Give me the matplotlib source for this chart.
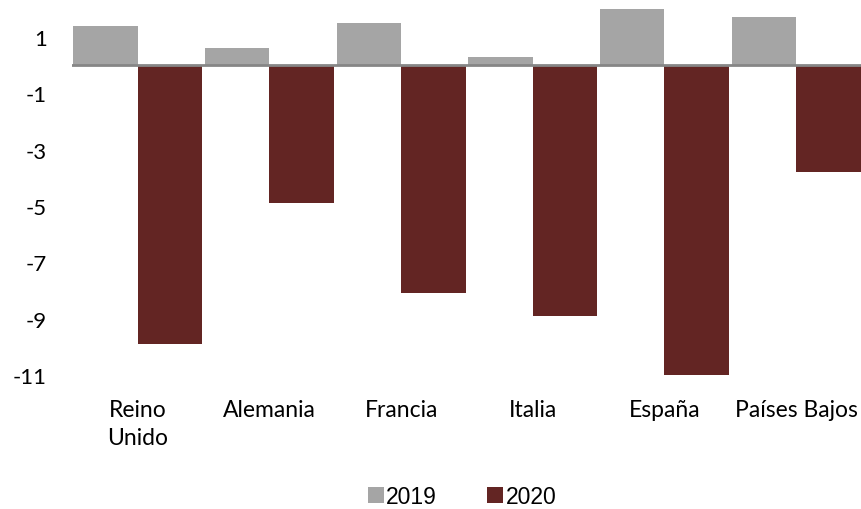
import matplotlib
matplotlib.use("Agg")
import matplotlib.pyplot as plt
import numpy as np

paises = ["Reino\nUnido", "Alemania", "Francia", "Italia", "España", "Países Bajos"]
v2019 = [1.4, 0.6, 1.5, 0.3, 2.0, 1.7]
v2020 = [-9.9, -4.9, -8.1, -8.9, -11.0, -3.8]
yticks = [1, -1, -3, -5, -7, -9, -11]

plt.rcParams['font.family'] = ['Lato', 'DejaVu Sans']

fig = plt.figure(figsize=(8.62, 5.1), dpi=100)
ax = fig.add_axes([72/862, 1-376/510, 1-72/862, (376-10)/510])

x = np.arange(len(paises))
w = 0.49
ax.bar(x - w/2, v2019, w, color="#A5A5A5", label="2019", zorder=2)
ax.bar(x + w/2, v2020, w, color="#632523", label="2020", zorder=2)
ax.axhline(0, color="#868686", lw=2, zorder=3)

ax.set_xlim(-0.5, len(paises) - 0.5)
ax.set_ylim(-11, 2)
ax.set_yticks(yticks)
ax.set_yticklabels([str(t) for t in yticks], fontsize=16)
ax.set_xticks(x)
ax.set_xticklabels(paises, fontsize=16.5, linespacing=1.45, va="top")
ax.tick_params(axis="y", length=0, pad=18)
ax.tick_params(axis="x", length=0, pad=17)
for s in ax.spines.values():
    s.set_visible(False)

fig.legend(loc="lower center", bbox_to_anchor=(0.536, -0.022), ncol=2, frameon=False,
           handlelength=0.7, handleheight=0.7, handletextpad=0.1, borderpad=0.05,
           columnspacing=2.2, prop={'family': ['Liberation Sans Narrow', 'Liberation Sans'], 'size': 16.5})

fig.savefig("out.png", dpi=100)
